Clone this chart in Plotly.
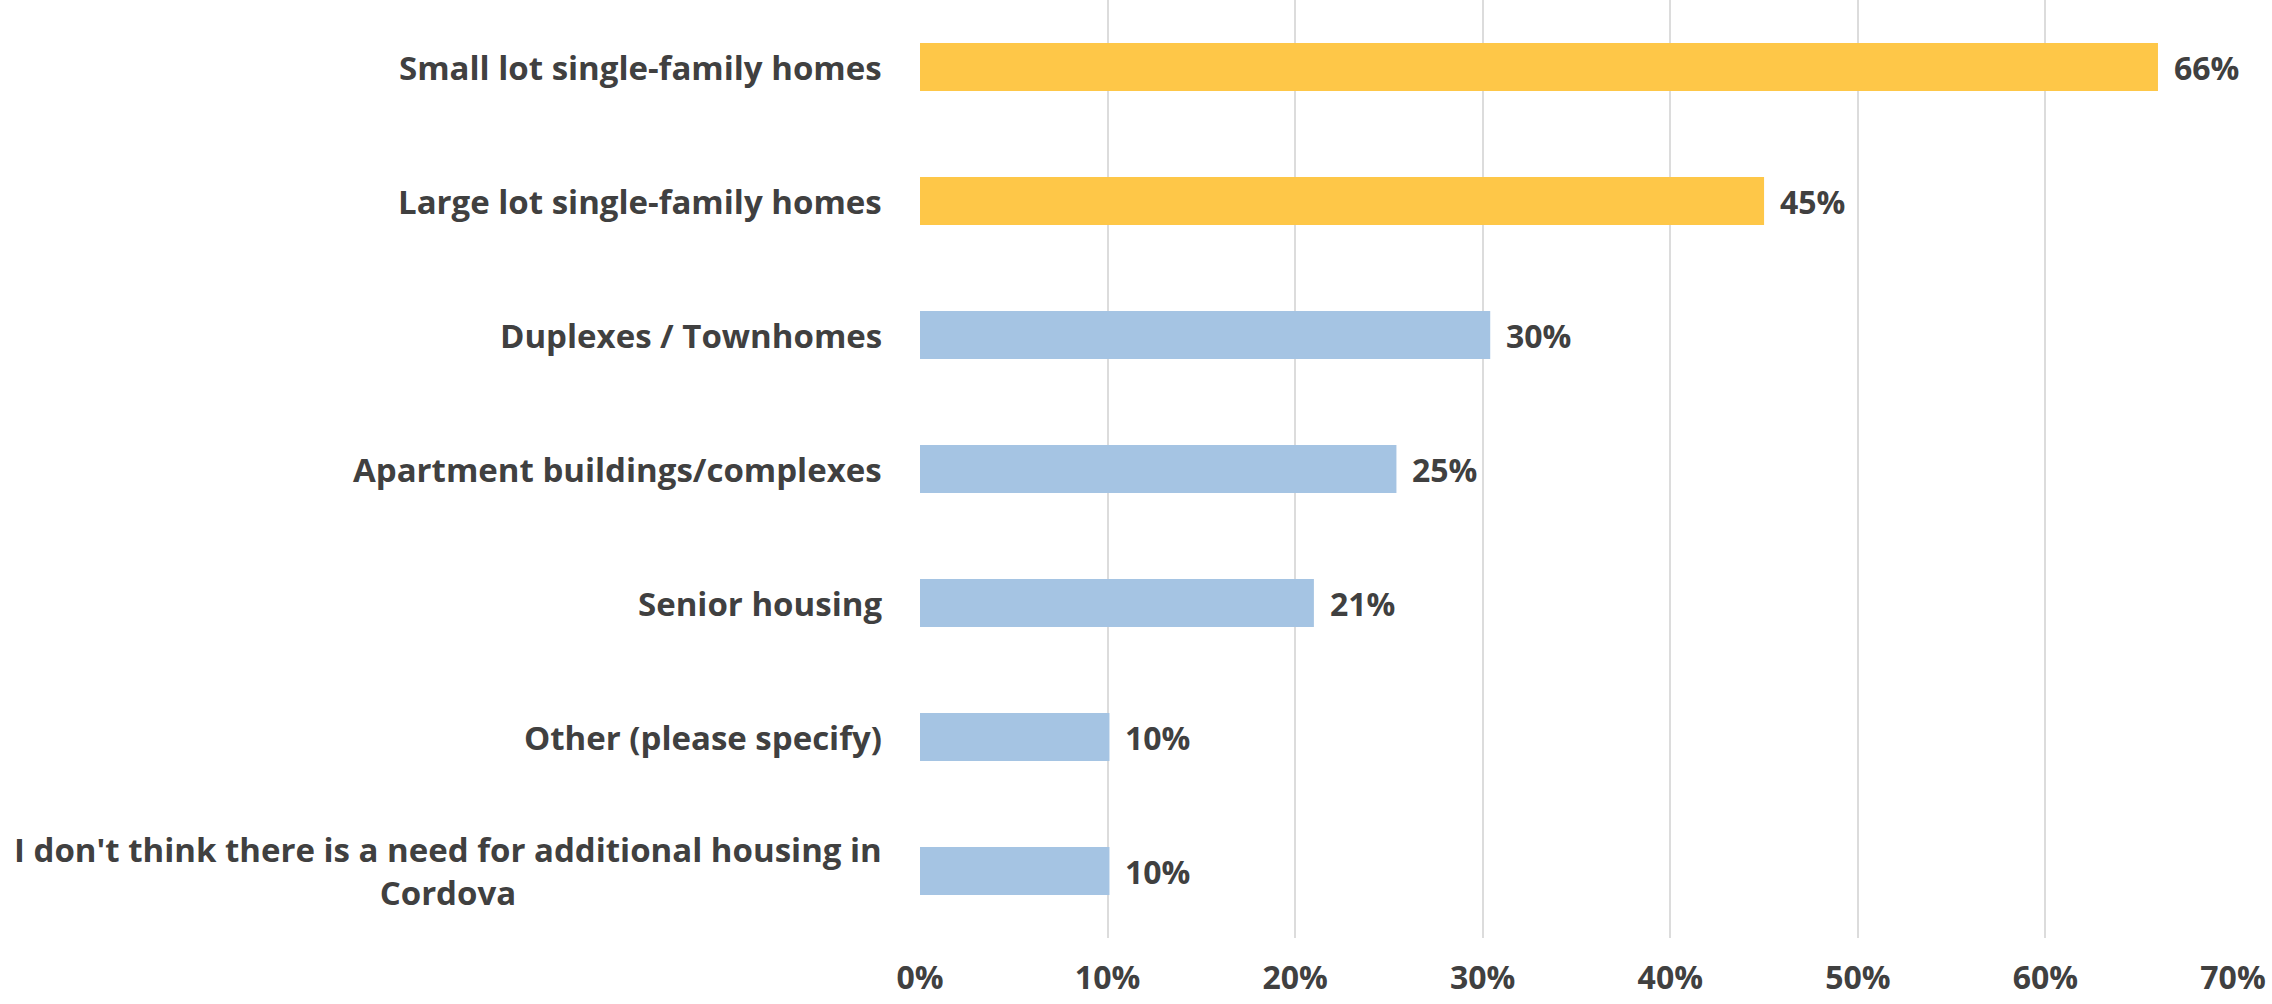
import plotly.graph_objects as go

categories = [
    "Small lot single-family homes",
    "Large lot single-family homes",
    "Duplexes / Townhomes",
    "Apartment buildings/complexes",
    "Senior housing",
    "Other (please specify)",
    "I don't think there is a need for additional housing in<br>Cordova",
]
values = [66, 45, 30.4, 25.4, 21, 10.1, 10.1]
bar_colors = ["#FEC748", "#FEC748", "#A5C4E3", "#A5C4E3", "#A5C4E3", "#A5C4E3", "#A5C4E3"]
x_tickvals = [0, 10, 20, 30, 40, 50, 60, 70]
x_ticktext = ["0%", "10%", "20%", "30%", "40%", "50%", "60%", "70%"]

TEXT = "#404040"
FONT = "Open Sans"

fig = go.Figure(go.Bar(
    x=values,
    y=categories,
    orientation="h",
    marker=dict(color=bar_colors, line=dict(width=0)),
    hoverinfo="x+y",
))

annotations = []
for c in categories:
    annotations.append(dict(
        x=0, xref="paper", y=c, yref="y",
        text=c, showarrow=False,
        xanchor="right", yanchor="middle", align="center",
        xshift=-36,
        font=dict(family=FONT, size=33, color=TEXT, weight="bold"),
    ))
for c, v in zip(categories, values):
    annotations.append(dict(
        x=v, xref="x", y=c, yref="y",
        text=f"{v:.0f}%", showarrow=False,
        xanchor="left", yanchor="middle",
        xshift=14,
        font=dict(family=FONT, size=32, color=TEXT, weight="bold"),
    ))

fig.update_layout(
    width=2272, height=1004,
    margin=dict(l=920, r=39, t=0, b=66, pad=0),
    paper_bgcolor="white", plot_bgcolor="white",
    bargap=0.64,
    showlegend=False,
    annotations=annotations,
)
fig.update_xaxes(
    range=[0, 70],
    tickvals=x_tickvals, ticktext=x_ticktext,
    showgrid=True, gridcolor="#DCDCDC", gridwidth=2,
    zeroline=False, showline=False, ticks="",
    ticklabelstandoff=18,
    tickfont=dict(family=FONT, size=32, color=TEXT, weight="bold"),
)
fig.update_yaxes(
    autorange="reversed",
    showticklabels=False, showgrid=False, zeroline=False, showline=False, ticks="",
)

fig.write_html(
    "out.html",
    config={"displayModeBar": False},
    post_script="document.body.style.margin='0';document.body.style.padding='0';",
)
